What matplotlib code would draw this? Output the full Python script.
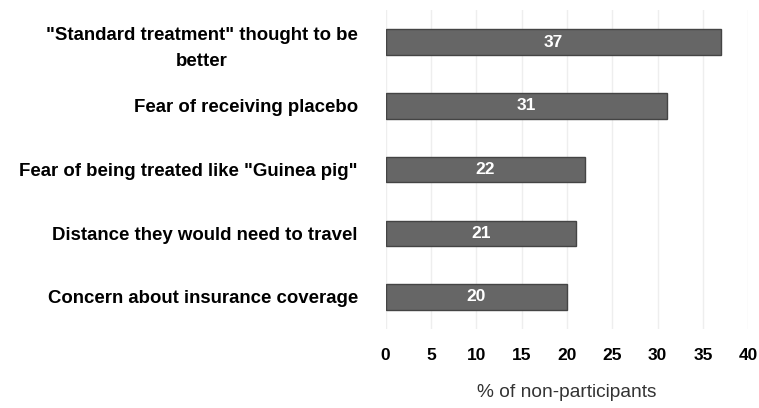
import numpy as np
import matplotlib.pyplot as plt

plt.rcParams['font.family'] = ['Liberation Sans', 'DejaVu Sans']

reasons = [
    '"Standard treatment" thought to be\nbetter',
    'Fear of receiving placebo',
    'Fear of being treated like "Guinea pig"',
    'Distance they would need to travel',
    'Concern about insurance coverage',
]
percent = [37, 31, 22, 21, 20]
xticks = [0, 5, 10, 15, 20, 25, 30, 35, 40]

fig = plt.figure(figsize=(7.59, 4.08), dpi=100)
ax = fig.add_axes([0.508, 0.194, 0.478, 0.781])

y = np.arange(len(reasons))
bars = ax.barh(y, percent, height=0.4, color='#666666', edgecolor='#444444', linewidth=1)
for b, v in zip(bars, percent):
    ax.text(b.get_width() / 2, b.get_y() + b.get_height() / 2, str(v),
            ha='center', va='center', color='white', fontsize=12.5, fontweight='bold')

ax.set_ylim(len(reasons) - 0.5, -0.5)
ax.set_xlim(0, 40)
ax.set_yticks(y)
ax.set_yticklabels(reasons, fontsize=13.4, fontweight='bold', ha='right',
                   multialignment='center', linespacing=1.7)
ax.set_xticks(xticks)
ax.set_xticklabels([str(t) for t in xticks], fontsize=12.5, fontweight='bold')
ax.tick_params(axis='y', length=0, pad=20)
ax.tick_params(axis='x', length=0, pad=14)
ax.set_xlabel('% of non-participants', fontsize=13.8, color='#333333', labelpad=15)

ax.grid(axis='x', color='#eeeeee', linewidth=1)
ax.set_axisbelow(True)
for s in ax.spines.values():
    s.set_visible(False)

fig.savefig('out.png', dpi=100)
